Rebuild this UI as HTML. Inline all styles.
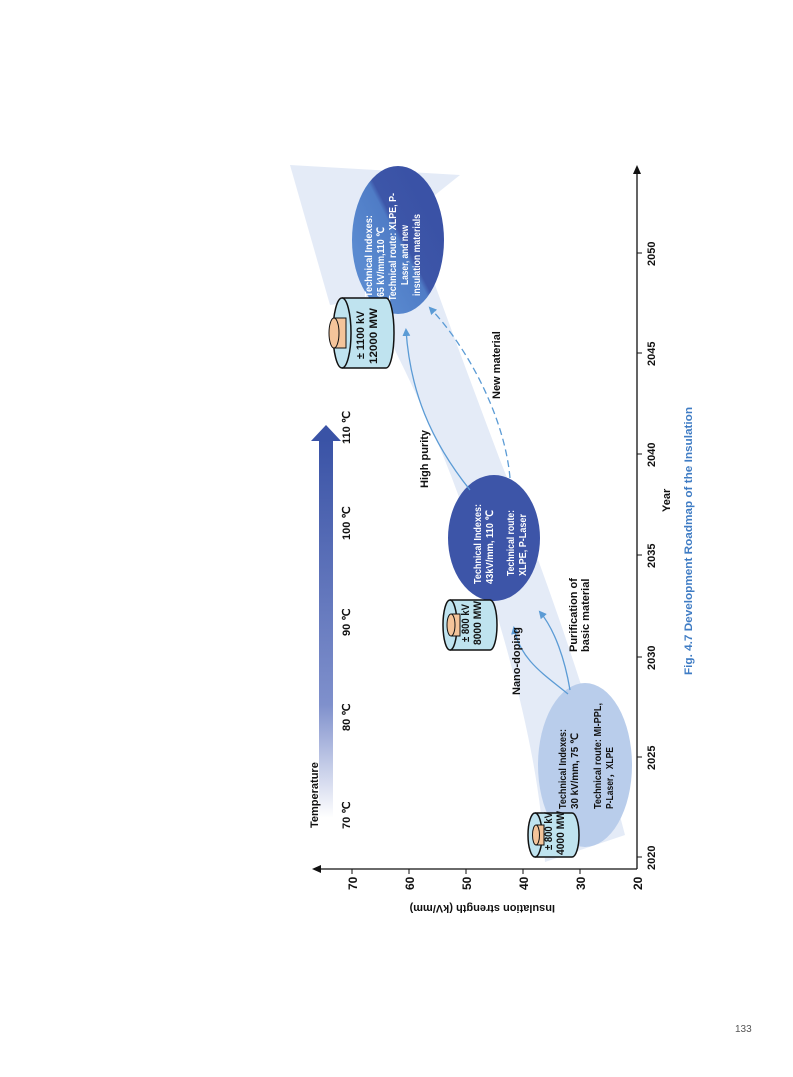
<!DOCTYPE html>
<html><head><meta charset="utf-8"><style>
html,body{margin:0;padding:0;background:#fff}
svg{display:block}
text{font-family:"Liberation Sans",Arial,sans-serif;font-weight:bold;}
</style></head><body>
<svg width="793" height="1077" viewBox="0 0 793 1077" xmlns="http://www.w3.org/2000/svg">
<defs>
<linearGradient id="tg" x1="0" y1="1" x2="0" y2="0">
<stop offset="0" stop-color="#ffffff"/><stop offset="0.3" stop-color="#7f90cc"/><stop offset="1" stop-color="#3a53a6"/>
</linearGradient>
<linearGradient id="e3" x1="0.2" y1="0.75" x2="0.8" y2="0.25">
<stop offset="0" stop-color="#5a8ad0"/><stop offset="0.5" stop-color="#4f7cc6"/><stop offset="0.56" stop-color="#3d56a8"/><stop offset="1" stop-color="#3a52a6"/>
</linearGradient>
<marker id="ah" markerWidth="8" markerHeight="8" refX="6" refY="4" orient="auto" markerUnits="userSpaceOnUse"><path d="M0,0 L8,4 L0,8 Z" fill="#5b9bd5"/></marker>
</defs>

<!-- band -->
<path d="M545,862 C540,760 510,650 470,530 C445,450 410,380 370,300 L330,305 L290,165 L460,175 L410,215 C440,300 470,380 500,460 C540,560 590,700 625,835 Z" fill="#e4ebf7"/>

<!-- temperature bar -->
<rect x="319" y="440" width="14" height="378" fill="url(#tg)"/>
<path d="M311,441 L326,425 L341,441 Z" fill="#3a53a6"/>
<text transform="translate(318,828) rotate(-90)" font-size="11" fill="#111">Temperature</text>
<g font-size="11" fill="#111">
<text transform="translate(350,829) rotate(-90)">70 ℃</text>
<text transform="translate(350,731) rotate(-90)">80 ℃</text>
<text transform="translate(350,636) rotate(-90)">90 ℃</text>
<text transform="translate(350,540) rotate(-90)">100 ℃</text>
<text transform="translate(350,444) rotate(-90)">110 ℃</text>
</g>

<!-- axes -->
<line x1="318" y1="869" x2="637" y2="869" stroke="#111" stroke-width="1.3"/>
<path d="M312,869 L321,865 L321,873 Z" fill="#111"/>
<line x1="637" y1="869" x2="637" y2="172" stroke="#111" stroke-width="1.3"/>
<path d="M637,165 L633,174 L641,174 Z" fill="#111"/>
<g stroke="#111" stroke-width="1">
<line x1="352" y1="869" x2="352" y2="874"/><line x1="409" y1="869" x2="409" y2="874"/><line x1="466" y1="869" x2="466" y2="874"/><line x1="523" y1="869" x2="523" y2="874"/><line x1="580" y1="869" x2="580" y2="874"/>
<line x1="637" y1="857" x2="642" y2="857"/><line x1="637" y1="757" x2="642" y2="757"/><line x1="637" y1="657" x2="642" y2="657"/><line x1="637" y1="555" x2="642" y2="555"/><line x1="637" y1="454" x2="642" y2="454"/><line x1="637" y1="353" x2="642" y2="353"/><line x1="637" y1="253" x2="642" y2="253"/>
</g>
<g font-size="12" fill="#111">
<text transform="translate(357,890) rotate(-90)">70</text>
<text transform="translate(414,890) rotate(-90)">60</text>
<text transform="translate(471,890) rotate(-90)">50</text>
<text transform="translate(528,890) rotate(-90)">40</text>
<text transform="translate(585,890) rotate(-90)">30</text>
<text transform="translate(642,890) rotate(-90)">20</text>
</g>
<g font-size="11" fill="#111">
<text transform="translate(655,870) rotate(-90)">2020</text>
<text transform="translate(655,770) rotate(-90)">2025</text>
<text transform="translate(655,670) rotate(-90)">2030</text>
<text transform="translate(655,568) rotate(-90)">2035</text>
<text transform="translate(655,467) rotate(-90)">2040</text>
<text transform="translate(655,366) rotate(-90)">2045</text>
<text transform="translate(655,266) rotate(-90)">2050</text>
<text transform="translate(670,512) rotate(-90)">Year</text>
</g>
<text transform="translate(555,905) rotate(180)" font-size="11" fill="#111">Insulation strength (kV/mm)</text>
<text transform="translate(692,675) rotate(-90)" font-size="11" fill="#3f7cc4" textLength="268" lengthAdjust="spacingAndGlyphs">Fig. 4.7   Development Roadmap of the Insulation</text>

<!-- ellipses -->
<ellipse cx="585" cy="765" rx="47" ry="82" fill="#b9cdeb"/>
<ellipse cx="494" cy="538" rx="46" ry="63" fill="#3d55a8"/>
<ellipse cx="398" cy="240" rx="46" ry="74" fill="url(#e3)"/>

<!-- connectors -->
<path d="M568,694 C545,675 520,660 514,628" fill="none" stroke="#5b9bd5" stroke-width="1.3" marker-end="url(#ah)"/>
<path d="M570,690 C565,660 555,630 540,612" fill="none" stroke="#5b9bd5" stroke-width="1.3" marker-end="url(#ah)"/>
<path d="M470,490 C430,440 410,390 406,330" fill="none" stroke="#5b9bd5" stroke-width="1.3" marker-end="url(#ah)"/>
<path d="M510,478 C505,420 470,350 430,308" fill="none" stroke="#5b9bd5" stroke-width="1.3" stroke-dasharray="7,4" marker-end="url(#ah)"/>

<g font-size="11" fill="#111">
<text transform="translate(520,695) rotate(-90)">Nano-doping</text>
<text transform="translate(577,652) rotate(-90)">Purification of</text>
<text transform="translate(589,652) rotate(-90)">basic material</text>
<text transform="translate(428,488) rotate(-90)">High purity</text>
<text transform="translate(500,399) rotate(-90)">New material</text>
</g>

<!-- ellipse texts -->
<g font-size="10" fill="#111" lengthAdjust="spacingAndGlyphs">
<text transform="translate(566,809) rotate(-90)" textLength="80" lengthAdjust="spacingAndGlyphs">Technical Indexes:</text>
<text transform="translate(578,809) rotate(-90)" textLength="76" lengthAdjust="spacingAndGlyphs">30 kV/mm,  75 ℃</text>
<text transform="translate(601,809) rotate(-90)" textLength="106" lengthAdjust="spacingAndGlyphs">Technical route: MI-PPL,</text>
<text transform="translate(613,809) rotate(-90)" textLength="62" lengthAdjust="spacingAndGlyphs">P-Laser，XLPE</text>
</g>
<g font-size="10" fill="#fff">
<text transform="translate(481,584) rotate(-90)" textLength="80" lengthAdjust="spacingAndGlyphs">Technical Indexes:</text>
<text transform="translate(493,584) rotate(-90)" textLength="74" lengthAdjust="spacingAndGlyphs">43kV/mm, 110 ℃</text>
<text transform="translate(514,576) rotate(-90)" textLength="66" lengthAdjust="spacingAndGlyphs">Technical route:</text>
<text transform="translate(526,576) rotate(-90)" textLength="62" lengthAdjust="spacingAndGlyphs">XLPE, P-Laser</text>
<text transform="translate(372,297) rotate(-90)" textLength="82" lengthAdjust="spacingAndGlyphs">Technical Indexes:</text>
<text transform="translate(384,297) rotate(-90)" textLength="70" lengthAdjust="spacingAndGlyphs">65 kV/mm,110 ℃</text>
<text transform="translate(396,301) rotate(-90)" textLength="108" lengthAdjust="spacingAndGlyphs">Technical route: XLPE, P-</text>
<text transform="translate(408,285) rotate(-90)" textLength="60" lengthAdjust="spacingAndGlyphs">Laser, and new</text>
<text transform="translate(420,296) rotate(-90)" textLength="82" lengthAdjust="spacingAndGlyphs">insulation materials</text>
</g>

<!-- cylinders -->
<g stroke="#111" stroke-width="1.5">
<path d="M535,813 L572,813 A7,22 0 0 1 572,857 L535,857" fill="#bfe3ef"/>
<ellipse cx="535" cy="835" rx="7" ry="22" fill="#bfe3ef"/>
<path d="M536,825 L544,825 L544,845 L536,845" fill="#f4c49a" stroke-width="1"/>
<ellipse cx="536" cy="835" rx="3.5" ry="10" fill="#f4c49a" stroke-width="1"/>
<path d="M450,600 L490,600 A7,25 0 0 1 490,650 L450,650" fill="#bfe3ef"/>
<ellipse cx="450" cy="625" rx="7" ry="25" fill="#bfe3ef"/>
<path d="M451,614 L460,614 L460,636 L451,636" fill="#f4c49a" stroke-width="1"/>
<ellipse cx="451" cy="625" rx="4" ry="11" fill="#f4c49a" stroke-width="1"/>
<path d="M342,298 L386,298 A8,35 0 0 1 386,368 L342,368" fill="#bfe3ef"/>
<ellipse cx="342" cy="333" rx="9" ry="35" fill="#bfe3ef"/>
<path d="M334,318 L346,318 L346,348 L334,348" fill="#f4c49a" stroke-width="1"/>
<ellipse cx="334" cy="333" rx="5" ry="15" fill="#f4c49a" stroke-width="1"/>
</g>
<g font-size="11" fill="#111">
<text transform="translate(552,850) rotate(-90)" textLength="38" lengthAdjust="spacingAndGlyphs">± 800 kV</text>
<text transform="translate(564,855) rotate(-90)" textLength="44" lengthAdjust="spacingAndGlyphs">4000 MW</text>
<text transform="translate(469,642) rotate(-90)" textLength="38" lengthAdjust="spacingAndGlyphs">± 800 kV</text>
<text transform="translate(481,645) rotate(-90)" textLength="44" lengthAdjust="spacingAndGlyphs">8000 MW</text>
<text transform="translate(364,359) rotate(-90)" textLength="48" lengthAdjust="spacingAndGlyphs">± 1100 kV</text>
<text transform="translate(377,364) rotate(-90)" textLength="56" lengthAdjust="spacingAndGlyphs">12000 MW</text>
</g>

<text x="735" y="1032" font-size="10" fill="#555" style="font-weight:normal">133</text>
</svg>
</body></html>
